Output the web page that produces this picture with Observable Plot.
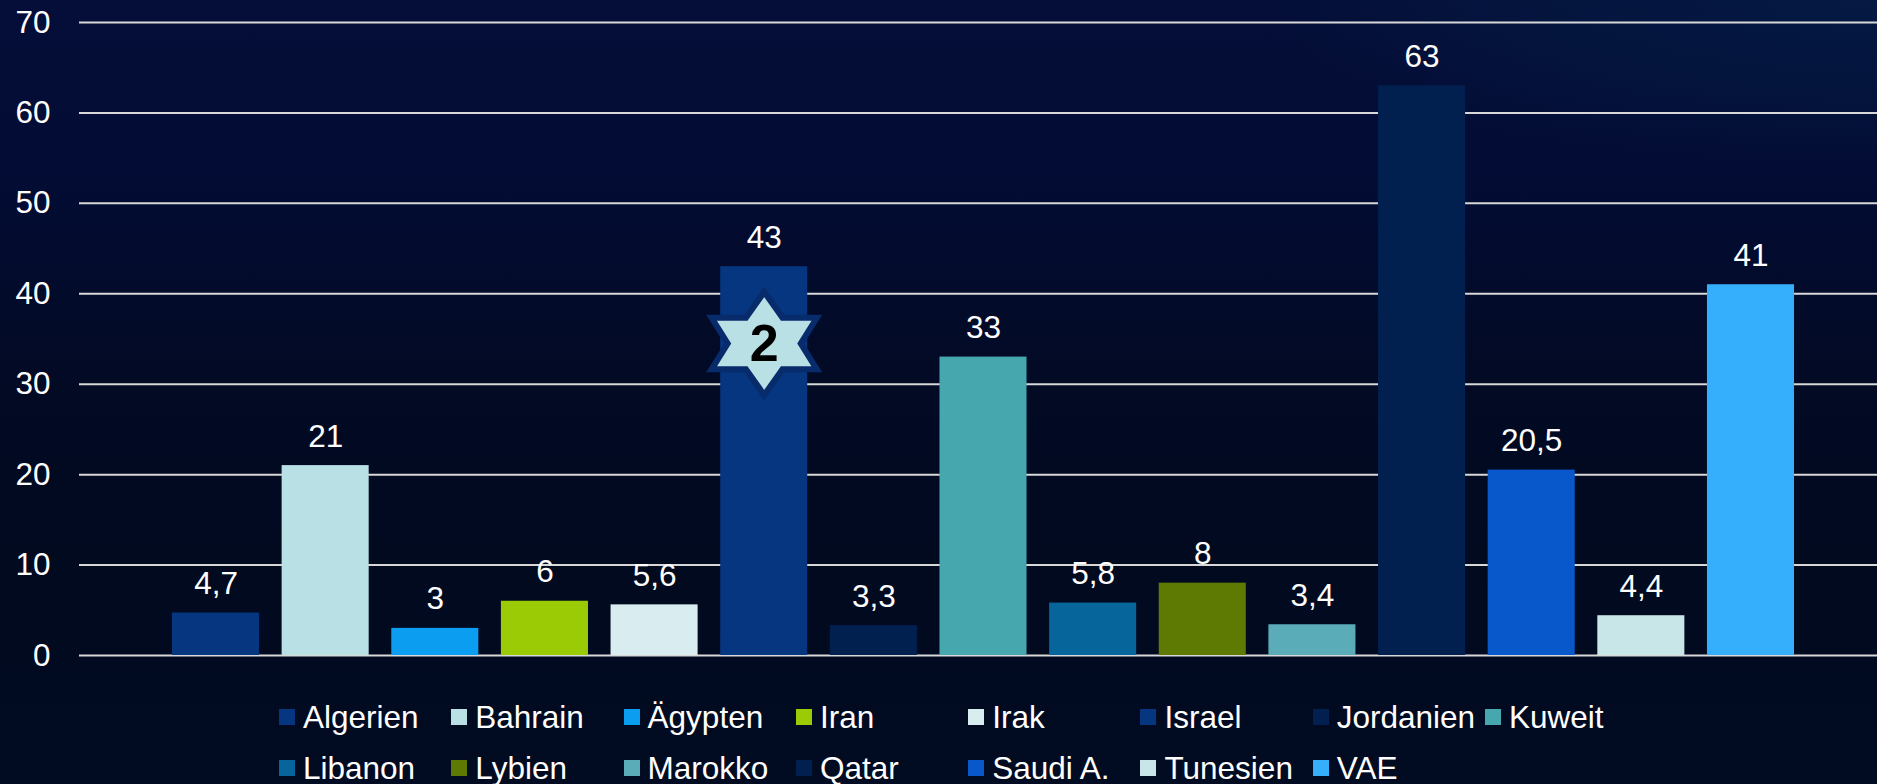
<!DOCTYPE html>
<html lang="de">
<head>
<meta charset="utf-8">
<script src="https://cdn.jsdelivr.net/npm/d3@7"></script>
<script src="https://cdn.jsdelivr.net/npm/@observablehq/plot@0.6"></script>
<style>
html,body{margin:0;padding:0;width:1877px;height:784px;overflow:hidden;}
body{background:
  radial-gradient(ellipse 620px 170px at 100% 0%,rgba(5,36,76,.5) 0%,rgba(5,36,76,.3) 55%,rgba(5,36,76,0) 100%),
  linear-gradient(180deg,#040e38 0%,#030c34 22%,#020b2b 36%,#020a24 50%,#010a1f 72%,#010b21 100%);
  font-family:"Liberation Sans",Arial,sans-serif;color:#fff;}
#chart svg{display:block;background:transparent;}
#legend{display:grid;grid-template-columns:repeat(8,172.3px);grid-auto-rows:51px;margin:9px 0 0 279px;font-size:31.5px;line-height:34px;}
#legend div{display:flex;align-items:center;white-space:nowrap;height:34px;}
#legend i{display:block;width:16px;height:16px;margin-right:8px;flex:none;}
</style>
</head>
<body>
<div id="chart"></div>
<div id="legend"></div>
<script>
const countries = ["Algerien","Bahrain","Ägypten","Iran","Irak","Israel","Jordanien","Kuweit","Libanon","Lybien","Marokko","Qatar","Saudi A.","Tunesien","VAE"];
const values = [4.7,21,3,6,5.6,43,3.3,33,5.8,8,3.4,63,20.5,4.4,41];
const colors = ["#05367f","#b9e0e4","#0b9df0","#9acb05","#d9ecf0","#05367f","#02204f","#47a7ae","#06659b","#5f7a03","#5aadb8","#02204f","#0858cc","#c8e5e7","#35aefb"];
const yTicks = [0,10,20,30,40,50,60,70];
const starCountry = "Israel";
const starLevel = 34.5;
const starLabel = "2";

const table = countries.map((name,i)=>({name,value:values[i],color:colors[i]}));
const comma = v => String(v).replace(".",",");

const hexagram = {
  draw(ctx,size){
    const k = Math.sqrt(size/Math.PI)/48;
    const pts = [[0,-48],[17,-24],[49,-24],[34,0],[49,24],[17,24],[0,48],[-17,24],[-49,24],[-34,0],[-49,-24],[-17,-24]];
    pts.forEach(([a,b],i)=> i ? ctx.lineTo(a*k,b*k) : ctx.moveTo(a*k,b*k));
    ctx.closePath();
  }
};

const plot = Plot.plot({
  width:1877,height:691,
  marginLeft:79,marginRight:0,marginTop:22,marginBottom:36,
  style:{background:"transparent",color:"#fff",fontFamily:'"Liberation Sans",Arial,sans-serif',fontSize:"31.5px"},
  x:{type:"band",domain:countries,range:[160.7,1805.3],paddingInner:0.206,paddingOuter:0.103,align:0.5,round:false,axis:null},
  y:{domain:[0,70],ticks:yTicks,label:null},
  marks:[
    Plot.ruleY(yTicks,{stroke:"#d8d8d8",strokeWidth:2,strokeOpacity:1}),
    Plot.barY(table,{x:"name",y:"value",fill:d=>d.color}),
    Plot.axisY({ticks:yTicks,tickSize:0,tickPadding:29,label:null,anchor:"left",fontSize:31.5,fill:"#fff",tickFormat:d=>String(d)}),
    Plot.text(table,{x:"name",y:"value",text:d=>comma(d.value),dy:-29,fill:"#fff",fontSize:31.5}),
    Plot.dot([{name:starCountry,level:starLevel}],{x:"name",y:"level",r:51.6,symbol:hexagram,fill:"#b9e0e4",stroke:"#072b6b",strokeWidth:6,strokeLinejoin:"miter"}),
    Plot.text([{name:starCountry,level:starLevel,t:starLabel}],{x:"name",y:"level",text:"t",fill:"#000",fontSize:52,fontWeight:"bold",dy:1})
  ]
});
document.getElementById("chart").append(plot);

const legend = document.getElementById("legend");
table.forEach(d=>{
  const row = document.createElement("div");
  const sw = document.createElement("i");
  sw.style.background = d.color;
  row.append(sw,document.createTextNode(d.name));
  legend.append(row);
});
</script>
</body>
</html>
